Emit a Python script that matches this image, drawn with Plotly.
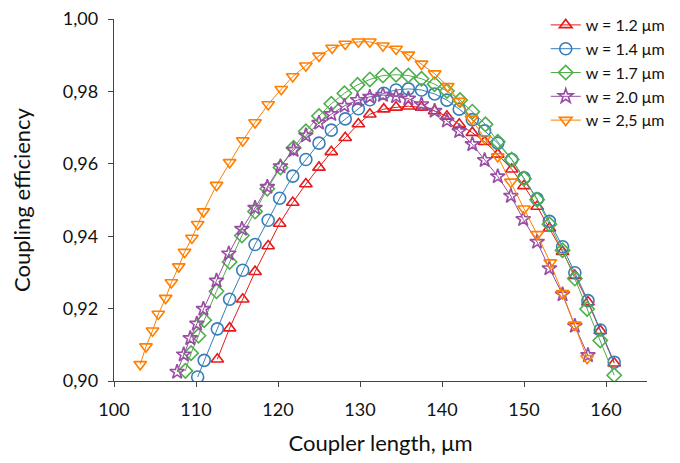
import plotly.graph_objects as go

# Coupler length (um) and coupling efficiency for each waveguide width
x_12 = [112.6, 114.1, 115.7, 117.2, 118.8, 120.2, 121.8, 123.4, 125.0, 126.5, 128.2, 129.8,
        131.2, 132.9, 134.4, 135.9, 137.5, 139.1, 140.6, 142.1, 143.7, 145.2, 146.8, 148.5,
        150.0, 151.6, 153.1, 154.7, 156.2, 157.8, 159.3, 161.0]
y_12 = [0.9060, 0.9146, 0.9226, 0.9302, 0.9373, 0.9435, 0.9493, 0.9544, 0.9590, 0.9633, 0.9672,
        0.9710, 0.9737, 0.9751, 0.9756, 0.9759, 0.9756, 0.9746, 0.9731, 0.9709, 0.9686, 0.9661,
        0.9626, 0.9585, 0.9539, 0.9482, 0.9422, 0.9357, 0.9291, 0.9218, 0.9139, 0.9049]

x_14 = [110.2, 111.0, 112.6, 114.1, 115.7, 117.2, 118.8, 120.2, 121.8, 123.4, 125.0, 126.5,
        128.2, 129.8, 131.2, 132.9, 134.4, 135.9, 137.5, 139.1, 140.6, 142.1, 143.7, 145.2,
        146.8, 148.5, 150.0, 151.6, 153.1, 154.7, 156.2, 157.8, 159.3, 161.0]
y_14 = [0.9011, 0.9057, 0.9144, 0.9226, 0.9306, 0.9377, 0.9444, 0.9505, 0.9566, 0.9612, 0.9657,
        0.9693, 0.9724, 0.9752, 0.9777, 0.9795, 0.9804, 0.9807, 0.9804, 0.9793, 0.9776, 0.9751,
        0.9722, 0.9691, 0.9657, 0.9612, 0.9561, 0.9503, 0.9441, 0.9371, 0.9299, 0.9222, 0.9141,
        0.9052]

x_17 = [108.7, 109.4, 110.3, 111.0, 112.5, 114.1, 115.6, 117.2, 118.7, 120.3, 121.9, 123.4,
        125.0, 126.5, 128.1, 129.7, 131.2, 132.8, 134.4, 135.9, 137.5, 139.1, 140.6, 142.2,
        143.7, 145.3, 146.8, 148.5, 150.0, 151.6, 153.1, 154.7, 156.2, 157.7, 159.3, 161.0]
y_17 = [0.9028, 0.9077, 0.9125, 0.9168, 0.9248, 0.9329, 0.9402, 0.9468, 0.9531, 0.9590, 0.9644,
        0.9690, 0.9732, 0.9766, 0.9795, 0.9818, 0.9833, 0.9844, 0.9846, 0.9844, 0.9835, 0.9820,
        0.9801, 0.9776, 0.9744, 0.9709, 0.9661, 0.9612, 0.9559, 0.9501, 0.9433, 0.9361, 0.9283,
        0.9199, 0.9112, 0.9016]

x_20 = [107.7, 108.5, 109.3, 110.1, 110.9, 112.5, 114.0, 115.6, 117.2, 118.7, 120.3, 121.9,
        123.4, 125.0, 126.5, 128.1, 129.7, 131.2, 132.8, 134.4, 135.9, 137.5, 139.1, 140.6,
        142.1, 143.7, 145.2, 146.8, 148.4, 149.9, 151.6, 153.1, 154.7, 156.2, 157.8]
y_20 = [0.9025, 0.9073, 0.9118, 0.9158, 0.9199, 0.9277, 0.9352, 0.9420, 0.9478, 0.9536, 0.9593,
        0.9638, 0.9678, 0.9713, 0.9737, 0.9760, 0.9776, 0.9785, 0.9790, 0.9786, 0.9780, 0.9764,
        0.9746, 0.9719, 0.9690, 0.9654, 0.9610, 0.9565, 0.9511, 0.9447, 0.9384, 0.9311, 0.9239,
        0.9152, 0.9071]

x_25 = [103.2, 103.9, 104.7, 105.4, 106.3, 107.0, 107.9, 108.6, 109.5, 110.2, 110.9, 112.5,
        114.1, 115.7, 117.2, 118.8, 120.4, 121.8, 123.4, 125.0, 126.6, 128.2, 129.8, 131.2,
        132.8, 134.4, 135.9, 137.5, 139.1, 140.7, 142.1, 143.6, 145.2, 146.8, 148.4, 150.0,
        151.6, 153.2, 154.7, 156.2, 157.7]
y_25 = [0.9046, 0.9095, 0.9139, 0.9185, 0.9229, 0.9272, 0.9316, 0.9356, 0.9395, 0.9433, 0.9468,
        0.9541, 0.9604, 0.9664, 0.9714, 0.9764, 0.9806, 0.9841, 0.9871, 0.9898, 0.9920, 0.9931,
        0.9937, 0.9937, 0.9926, 0.9917, 0.9901, 0.9876, 0.9849, 0.9814, 0.9773, 0.9724, 0.9670,
        0.9620, 0.9550, 0.9476, 0.9405, 0.9327, 0.9242, 0.9155, 0.9063]

names = ["w = 1.2 μm", "w = 1.4 μm", "w = 1.7 μm", "w = 2.0 μm", "w = 2,5 μm"]
y_ticks = [0.90, 0.92, 0.94, 0.96, 0.98, 1.00]
y_tick_text = ["0,90", "0,92", "0,94", "0,96", "0,98", "1,00"]

series = [
    (x_12, y_12, "#E41A1C", "triangle-up-open", 11),
    (x_14, y_14, "#377EB8", "circle-open", 12),
    (x_17, y_17, "#4DAF4A", "diamond-open", 11),
    (x_20, y_20, "#984EA3", "star-open", 11),
    (x_25, y_25, "#FF7F00", "triangle-down-open", 11),
]

fig = go.Figure()

for i, (xs, ys, color, symbol, size) in enumerate(series):
    fig.add_trace(go.Scatter(
        x=xs,
        y=ys,
        mode='lines+markers',
        name=names[i],
        legendgroup=names[i],
        line=dict(color=color, width=1),
        marker=dict(symbol=symbol, size=size, color=color, line=dict(color=color, width=1.6)),
    ))

# the page body adds 8 px around the figure, so margins are shifted to compensate
fig.update_layout(
    width=680,
    height=463,
    margin=dict(l=106, r=41, t=0, b=90),
    plot_bgcolor="white",
    paper_bgcolor="white",
    font=dict(family="Lato", size=18, color="#111111"),
    showlegend=True,
    legend=dict(
        x=0.81, y=1.0, xanchor="left", yanchor="top",
        font=dict(size=16, color="#111111"),
        bgcolor="rgba(0,0,0,0)",
        tracegroupgap=0,
        traceorder="grouped",
    ),
)

fig.update_xaxes(
    range=[100, 165],
    tickvals=[100, 110, 120, 130, 140, 150, 160],
    ticks="outside", ticklen=5, tickcolor="#444444",
    ticklabelstandoff=7, ticklabeloverflow="allow",
    showline=True, linecolor="#444444", linewidth=1.3,
    showgrid=False, zeroline=False, automargin=False,
    title=dict(text="Coupler length, μm", font=dict(size=22), standoff=16),
)
fig.update_yaxes(
    range=[0.9, 1.0],
    domain=[0, 362 / 373],
    tickvals=y_ticks, ticktext=y_tick_text,
    ticks="outside", ticklen=5, tickcolor="#444444",
    ticklabelstandoff=6, ticklabeloverflow="allow",
    showline=True, linecolor="#444444", linewidth=1.3,
    showgrid=False, zeroline=False, automargin=False,
    title=dict(text="Coupling efficiency", font=dict(size=22), standoff=27),
)

fig.write_html("out.html")
